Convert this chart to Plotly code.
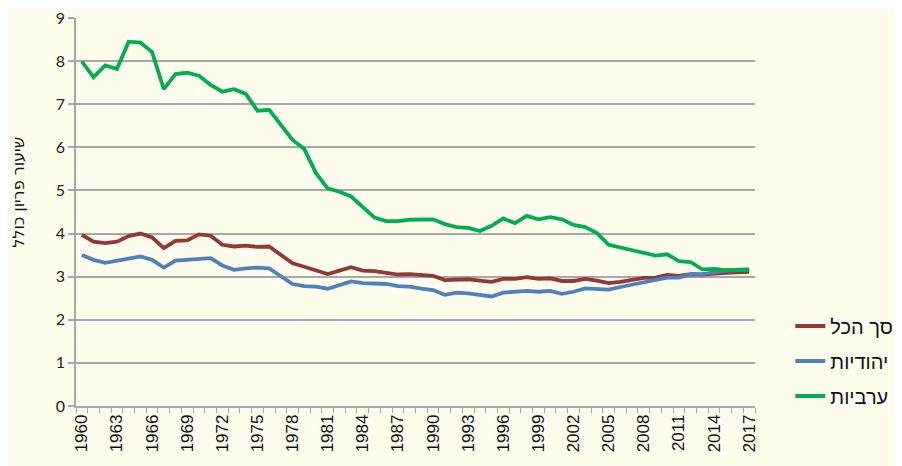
import plotly.graph_objects as go

years = list(range(1960, 2018))

total = [3.97, 3.81, 3.78, 3.81, 3.94, 4.00, 3.91, 3.66, 3.83, 3.84,
         3.98, 3.95, 3.74, 3.70, 3.72, 3.69, 3.70, 3.50, 3.31, 3.23,
         3.15, 3.06, 3.14, 3.22, 3.14, 3.13, 3.09, 3.05, 3.06, 3.03,
         3.02, 2.92, 2.94, 2.94, 2.91, 2.88, 2.95, 2.95, 2.99, 2.95,
         2.96, 2.90, 2.90, 2.95, 2.91, 2.85, 2.88, 2.92, 2.97, 2.98,
         3.04, 3.02, 3.06, 3.05, 3.08, 3.09, 3.10, 3.11]

jewish = [3.50, 3.39, 3.32, 3.37, 3.43, 3.47, 3.39, 3.21, 3.37, 3.39,
          3.40, 3.43, 3.26, 3.16, 3.19, 3.21, 3.19, 3.00, 2.83, 2.78,
          2.77, 2.72, 2.81, 2.89, 2.85, 2.85, 2.83, 2.78, 2.77, 2.72,
          2.69, 2.58, 2.63, 2.61, 2.58, 2.54, 2.63, 2.65, 2.67, 2.65,
          2.67, 2.60, 2.65, 2.73, 2.72, 2.70, 2.76, 2.81, 2.88, 2.92,
          2.98, 2.98, 3.05, 3.06, 3.11, 3.14, 3.16, 3.17]

arab = [7.99, 7.63, 7.90, 7.82, 8.45, 8.43, 8.21, 7.35, 7.70, 7.73,
        7.66, 7.45, 7.29, 7.35, 7.24, 6.85, 6.87, 6.52, 6.17, 5.96,
        5.40, 5.05, 4.97, 4.86, 4.62, 4.37, 4.29, 4.29, 4.32, 4.32,
        4.33, 4.22, 4.15, 4.13, 4.06, 4.18, 4.35, 4.24, 4.41, 4.33,
        4.38, 4.33, 4.20, 4.15, 4.01, 3.74, 3.68, 3.62, 3.57, 3.49,
        3.52, 3.36, 3.34, 3.17, 3.18, 3.15, 3.15, 3.16]

names = ["סך הכל", "יהודיות", "ערביות"]
colors = ["#953735", "#4F81BD", "#00B050"]
x_labels = list(range(1960, 2018, 3))
y_title = "שיעור פריון כולל"

bg = "#FEFCEC"
grid = "#A8A8A8"

fig = go.Figure()
for i, (name, vals, col) in enumerate(zip(names, [total, jewish, arab], colors)):
    fig.add_trace(go.Scatter(x=years, y=vals, mode="lines", name=name,
                             legendgroup=f"g{i}",
                             line=dict(color=col, width=3.8)))

fig.update_layout(
    width=902, height=466,
    paper_bgcolor=bg, plot_bgcolor=bg,
    margin=dict(l=68, r=155, t=10, b=68, autoexpand=False),
    font=dict(family="Liberation Sans, Arial", color="#222222"),
    showlegend=True,
    legend=dict(x=1.052, y=0.116, xanchor="left", yanchor="middle",
                font=dict(size=20, family="Liberation Sans, Arial", color="#111111"),
                bgcolor="rgba(0,0,0,0)", tracegroupgap=6, traceorder="grouped"),
    annotations=[dict(text=y_title, textangle=-90, xref="paper", yref="paper",
                      x=-0.084, y=0.552, xanchor="center", yanchor="middle",
                      showarrow=False,
                      font=dict(size=16, family="DejaVu Sans", color="#111111"))],
)

fig.update_xaxes(
    range=[1959.5, 2017.5], automargin=False,
    tickmode="array", tickvals=x_labels, ticktext=[str(v) for v in x_labels],
    tickangle=-90, ticks="", ticklabeloverflow="allow",
    tickfont=dict(size=17, family="Liberation Sans, Arial", color="#111111"),
    showgrid=False, showline=True, linecolor=grid, linewidth=1.5,
    minor=dict(ticks="outside", tick0=1959.5, dtick=1, ticklen=5,
               tickcolor=grid, tickwidth=1, showgrid=False),
)

fig.update_yaxes(
    range=[0, 9], dtick=1, tick0=0, automargin=False,
    ticks="outside", ticklen=6, tickcolor=grid, tickwidth=1.5,
    ticklabeloverflow="allow",
    tickfont=dict(size=16, family="Lato, Liberation Sans", color="#222222"),
    showgrid=True, gridcolor=grid, gridwidth=1.5,
    showline=True, linecolor=grid, linewidth=1.5,
    zeroline=False,
)

fig.write_html("out.html")
